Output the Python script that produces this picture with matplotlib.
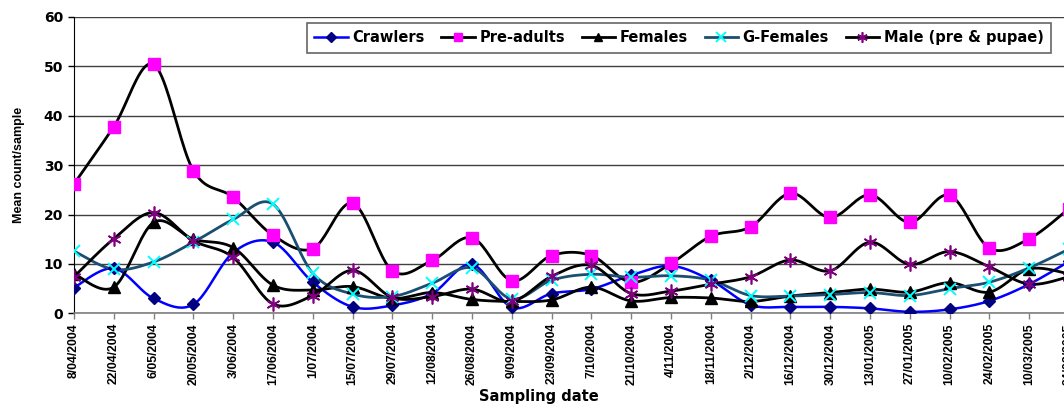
import numpy as np
import matplotlib
matplotlib.use("Agg")
import matplotlib.pyplot as plt
from matplotlib.lines import Line2D

# Fortnightly sampling dates
dates = ["8/04/2004", "22/04/2004", "6/05/2004", "20/05/2004", "3/06/2004",
         "17/06/2004", "1/07/2004", "15/07/2004", "29/07/2004", "12/08/2004",
         "26/08/2004", "9/09/2004", "23/09/2004", "7/10/2004", "21/10/2004",
         "4/11/2004", "18/11/2004", "2/12/2004", "16/12/2004", "30/12/2004",
         "13/01/2005", "27/01/2005", "10/02/2005", "24/02/2005", "10/03/2005",
         "24/03/2005"]

crawlers = [5.2, 9.1, 3.0, 1.8, 12.3, 14.4, 6.3, 1.3, 1.6, 4.0, 9.9, 1.2, 4.0,
            4.9, 7.7, 9.6, 6.7, 1.7, 1.3, 1.3, 1.0, 0.3, 0.8, 2.5, 5.9, 10.5]
pre_adults = [26.2, 37.8, 50.4, 28.9, 23.5, 15.8, 13.1, 22.3, 8.6, 10.7, 15.3,
              6.6, 11.7, 11.7, 6.3, 10.1, 15.6, 17.5, 24.3, 19.4, 24.0, 18.4,
              23.9, 13.2, 15.1, 21.2]
females = [8.0, 5.3, 18.4, 15.0, 13.3, 5.7, 4.7, 5.4, 3.0, 4.2, 2.8, 2.4, 2.7,
           5.3, 2.5, 3.2, 3.1, 2.4, 3.5, 4.2, 4.9, 4.3, 6.2, 4.3, 9.0, 8.0]
g_females = [12.6, 8.9, 10.4, 14.4, 19.0, 22.1, 8.1, 3.9, 3.4, 6.1, 9.2, 2.9,
             6.7, 7.9, 7.3, 7.6, 6.7, 3.6, 3.5, 3.8, 4.2, 3.6, 5.0, 6.3, 9.2,
             13.0]
males = [7.4, 15.1, 20.4, 14.7, 11.3, 1.9, 3.6, 8.7, 3.2, 3.4, 4.9, 2.4, 7.5,
         9.7, 4.0, 4.5, 5.9, 7.4, 10.8, 8.6, 14.4, 9.9, 12.5, 9.4, 5.9, 7.4]

series_names = ["Crawlers", "Pre-adults", "Females", "G-Females",
                "Male (pre & pupae)"]


def smooth(y, n=24):
    """Catmull-Rom style Bezier smoothing through every point."""
    y = np.asarray(y, float)
    x = np.arange(len(y), dtype=float)
    pts = np.column_stack([x, y])
    ext = np.vstack([pts[0], pts, pts[-1]])
    out = []
    t = np.linspace(0, 1, n)[:, None]
    for i in range(len(pts) - 1):
        p0, p1, p2, p3 = ext[i], ext[i + 1], ext[i + 2], ext[i + 3]
        c1 = p1 + (p2 - p0) / 6.0
        c2 = p2 - (p3 - p1) / 6.0
        seg = ((1 - t) ** 3) * p1 + 3 * ((1 - t) ** 2) * t * c1 \
            + 3 * (1 - t) * t ** 2 * c2 + t ** 3 * p2
        out.append(seg if i == 0 else seg[1:])
    s = np.vstack(out)
    return s[:, 0], s[:, 1]


W, H = 1064, 405
fig = plt.figure(figsize=(W / 100, H / 100), dpi=100)
left_px, top_px, bottom_px = 74, 17, 313.3
right_px = 74 + 39.8 * (len(dates) - 1)
ax = fig.add_axes([left_px / W, (H - bottom_px) / H,
                   (right_px - left_px) / W, (bottom_px - top_px) / H])

styles = [
    dict(data=crawlers, lc="#0000FF", marker="D", mfc="#000080", mec="#000080",
         ms=6.5, mew=1, lw=1.8),
    dict(data=pre_adults, lc="#000000", marker="s", mfc="#FF00FF", mec="#FF00FF",
         ms=8.5, mew=1, lw=2.0),
    dict(data=females, lc="#000000", marker="^", mfc="#000000", mec="#000000",
         ms=8.5, mew=1, lw=2.0),
    dict(data=g_females, lc="#1B4F72", marker="x", mfc="#00FFFF", mec="#00FFFF",
         ms=9, mew=1.4, lw=2.0),
    dict(data=males, lc="#000000", marker=(6, 2, 0), mfc="#800080", mec="#800080",
         ms=10, mew=1.2, lw=2.0),
]

handles = []
for name, st in zip(series_names, styles):
    xs, ys = smooth(st["data"])
    ax.plot(xs, ys, color=st["lc"], lw=st["lw"], solid_capstyle="round",
            zorder=3)
    ax.plot(np.arange(len(st["data"])), st["data"], ls="none",
            marker=st["marker"], mfc=st["mfc"], mec=st["mec"], ms=st["ms"],
            mew=st["mew"], zorder=4)
    handles.append(Line2D([], [], color=st["lc"], lw=st["lw"],
                          marker=st["marker"], mfc=st["mfc"], mec=st["mec"],
                          ms=st["ms"] * 0.75, mew=st["mew"]))

ax.set_xlim(0, len(dates) - 1)
ax.set_ylim(0, 60)
ax.set_yticks(range(0, 61, 10))
ax.set_xticks(range(len(dates)))
ax.set_xticklabels(dates, rotation=90, family="Liberation Sans",
                   fontweight="bold", fontsize=8.8)
ax.tick_params(axis="x", length=4, width=1, color="#808080", pad=3)
ax.tick_params(axis="y", length=4, width=1, color="#000000", pad=4)
for lab in ax.get_yticklabels():
    lab.set_family("DejaVu Sans")
    lab.set_fontweight("bold")
    lab.set_fontsize(10)

ax.yaxis.grid(True, color="#404040", lw=1.0, zorder=0)
ax.set_axisbelow(True)
for side in ("top", "right"):
    ax.spines[side].set_visible(False)
ax.spines["left"].set_color("#000000")
ax.spines["bottom"].set_color("#808080")
ax.spines["bottom"].set_linewidth(1.2)

fig.text(19 / W, (H - 165) / H, "Mean count/sample", rotation=90,
         ha="center", va="center", family="Liberation Sans",
         fontweight="bold", fontsize=9)
fig.text(539 / W, (H - 396) / H, "Sampling date", ha="center", va="center",
         family="DejaVu Sans", fontweight="bold", fontsize=10.5)

leg = fig.legend(handles, series_names, ncol=5, loc="upper left",
                 bbox_to_anchor=(307 / W, (H - 23) / H),
                 prop=dict(family="DejaVu Sans", weight="bold", size=10.5),
                 frameon=True, fancybox=False, handlelength=2.3,
                 handletextpad=0.3, columnspacing=1.15, borderpad=0.5,
                 borderaxespad=0)
leg.get_frame().set_edgecolor("#404040")
leg.get_frame().set_linewidth(1.2)

fig.savefig("out.png", dpi=100)
